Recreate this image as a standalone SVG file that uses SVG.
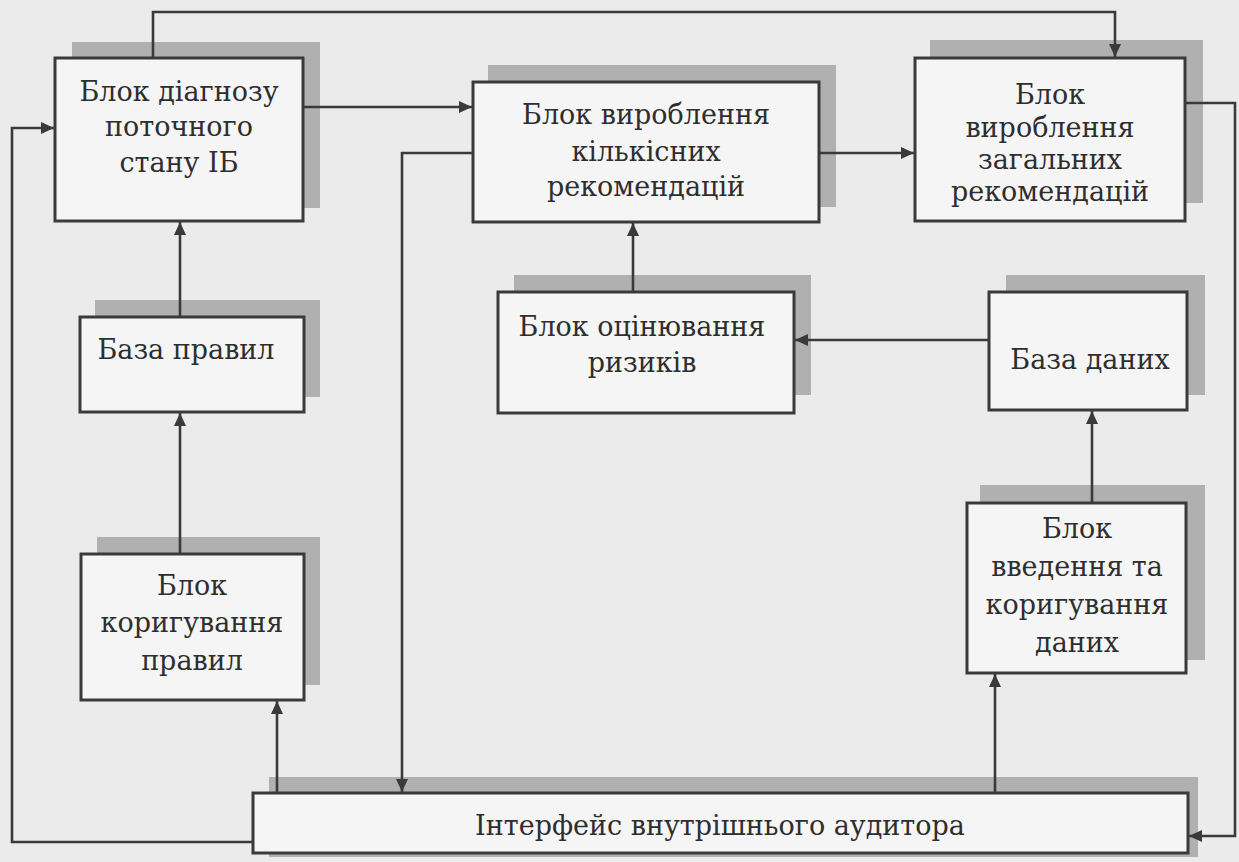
<svg xmlns="http://www.w3.org/2000/svg" width="1239" height="862" viewBox="0 0 1239 862">
<defs>
<style>
.bg{fill:#ebebeb}
.sh{fill:#b0b0b0}
.bx{fill:#f5f5f5;stroke:#3a3a3a;stroke-width:3}
.t{font-family:"DejaVu Serif","Liberation Serif",serif;font-size:27px;fill:#2e2e2e;text-anchor:middle}
.c{fill:none;stroke:#3a3a3a;stroke-width:2.6}
</style>
<marker id="ah" markerUnits="userSpaceOnUse" markerWidth="14" markerHeight="12" refX="13" refY="6" orient="auto">
<path d="M0,0 L13,6 L0,12 Z" fill="#3a3a3a"/>
</marker>
</defs>
<rect class="bg" x="0" y="0" width="1239" height="862"/>

<g id="node-diagnoz">
<rect class="sh" x="72" y="42" width="248" height="166"/>
<rect class="bx" x="55" y="58" width="248" height="163"/>
<text class="t" x="179" y="101">Блок діагнозу</text>
<text class="t" x="179" y="136">поточного</text>
<text class="t" x="179" y="172">стану ІБ</text>
</g>

<g id="node-kilkisni">
<rect class="sh" x="488" y="65" width="348" height="142"/>
<rect class="bx" x="473" y="82" width="346" height="140"/>
<text class="t" x="646" y="124">Блок вироблення</text>
<text class="t" x="646" y="161">кількісних</text>
<text class="t" x="646" y="196">рекомендацій</text>
</g>

<g id="node-zagalni">
<rect class="sh" x="930" y="40" width="273" height="163"/>
<rect class="bx" x="915" y="58" width="270" height="163"/>
<text class="t" x="1050" y="104">Блок</text>
<text class="t" x="1050" y="137">вироблення</text>
<text class="t" x="1050" y="169">загальних</text>
<text class="t" x="1050" y="201">рекомендацій</text>
</g>

<g id="node-baza-pravyl">
<rect class="sh" x="95" y="300" width="225" height="97"/>
<rect class="bx" x="80" y="317" width="224" height="95"/>
<text class="t" x="186" y="359">База правил</text>
</g>

<g id="node-otsinyuvannya">
<rect class="sh" x="514" y="275" width="297" height="120"/>
<rect class="bx" x="498" y="292" width="296" height="121"/>
<text class="t" x="642" y="336">Блок оцінювання</text>
<text class="t" x="642" y="372">ризиків</text>
</g>

<g id="node-baza-danykh">
<rect class="sh" x="1006" y="275" width="199" height="120"/>
<rect class="bx" x="989" y="292" width="198" height="118"/>
<text class="t" x="1090" y="369">База даних</text>
</g>

<g id="node-vvedennya">
<rect class="sh" x="980" y="485" width="225" height="175"/>
<rect class="bx" x="967" y="503" width="219" height="170"/>
<text class="t" x="1077" y="538">Блок</text>
<text class="t" x="1077" y="576">введення та</text>
<text class="t" x="1077" y="614">коригування</text>
<text class="t" x="1077" y="652">даних</text>
</g>

<g id="node-koryguvannya-pravyl">
<rect class="sh" x="97" y="537" width="223" height="148"/>
<rect class="bx" x="81" y="554" width="223" height="146"/>
<text class="t" x="192" y="595">Блок</text>
<text class="t" x="192" y="632">коригування</text>
<text class="t" x="192" y="670">правил</text>
</g>

<g id="node-interfeys">
<rect class="sh" x="269" y="777" width="929" height="80"/>
<rect class="bx" x="253" y="793" width="935" height="60"/>
<text class="t" x="720" y="835">Інтерфейс внутрішнього аудитора</text>
</g>

<g id="connectors">
<path class="c" d="M153,58 V12 H1115 V57" marker-end="url(#ah)"/>
<path class="c" d="M303,107 H472" marker-end="url(#ah)"/>
<path class="c" d="M473,153 H402 V792" marker-end="url(#ah)"/>
<path class="c" d="M819,153 H914" marker-end="url(#ah)"/>
<path class="c" d="M1185,103 H1235 V836 H1189" marker-end="url(#ah)"/>
<path class="c" d="M180,317 V222" marker-end="url(#ah)"/>
<path class="c" d="M180,554 V413" marker-end="url(#ah)"/>
<path class="c" d="M277,793 V701" marker-end="url(#ah)"/>
<path class="c" d="M253,842 H12 V128 H54" marker-end="url(#ah)"/>
<path class="c" d="M633,292 V223" marker-end="url(#ah)"/>
<path class="c" d="M989,340 H795" marker-end="url(#ah)"/>
<path class="c" d="M1092,503 V411" marker-end="url(#ah)"/>
<path class="c" d="M995,793 V674" marker-end="url(#ah)"/>
</g>
</svg>
